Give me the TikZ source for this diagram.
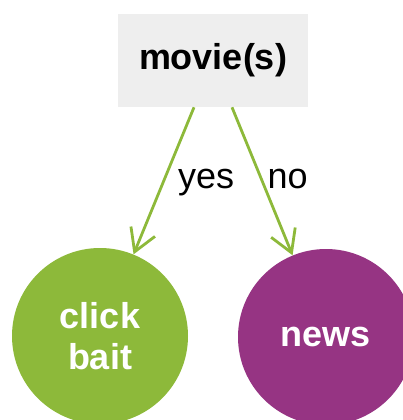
\documentclass[tikz,border=0pt]{standalone}
\usepackage{fontspec}
\setmainfont{Liberation Sans}
\usetikzlibrary{arrows.meta, positioning}

\definecolor{leafgreen}{HTML}{8DB93A}
\definecolor{leafpurple}{HTML}{963483}
\definecolor{boxgray}{HTML}{EEEEEE}

\begin{document}
\begin{tikzpicture}[
    decision/.style={rectangle, fill=boxgray, minimum width=4.75cm, minimum height=2.325cm, font=\bfseries\fontsize{25.6}{29}\selectfont, align=center},
    leaf/.style={circle, minimum size=4.4cm, inner sep=0pt, text=white, font=\bfseries\fontsize{25.6}{29}\selectfont, align=center},
    arrow/.style={-{Straight Barb[length=0.55cm, width=0.65cm]}, line width=0.07cm, draw=leafgreen},
    choice/.style={font=\fontsize{25.6}{29}\selectfont, inner sep=0pt, anchor=base west}
]
\clip (0,0) rectangle (10.075,-10.5);

% Question
\node[decision] (movies) at (5.325,-1.5125) {movie(s)};

% Outcomes
\node[leaf, fill=leafgreen] (clickbait) at (2.5,-8.4) {click\\bait};
\node[leaf, fill=leafpurple] (news) at (8.15,-8.425) {news};

% Arrows
\draw[arrow] ([xshift=-0.475cm]movies.south) -- (clickbait) node[choice, pos=0.55, xshift=0.4cm] {yes};
\draw[arrow] ([xshift=0.475cm]movies.south) -- (news) node[choice, pos=0.55, xshift=0.02cm] {no};

\end{tikzpicture}
\end{document}
